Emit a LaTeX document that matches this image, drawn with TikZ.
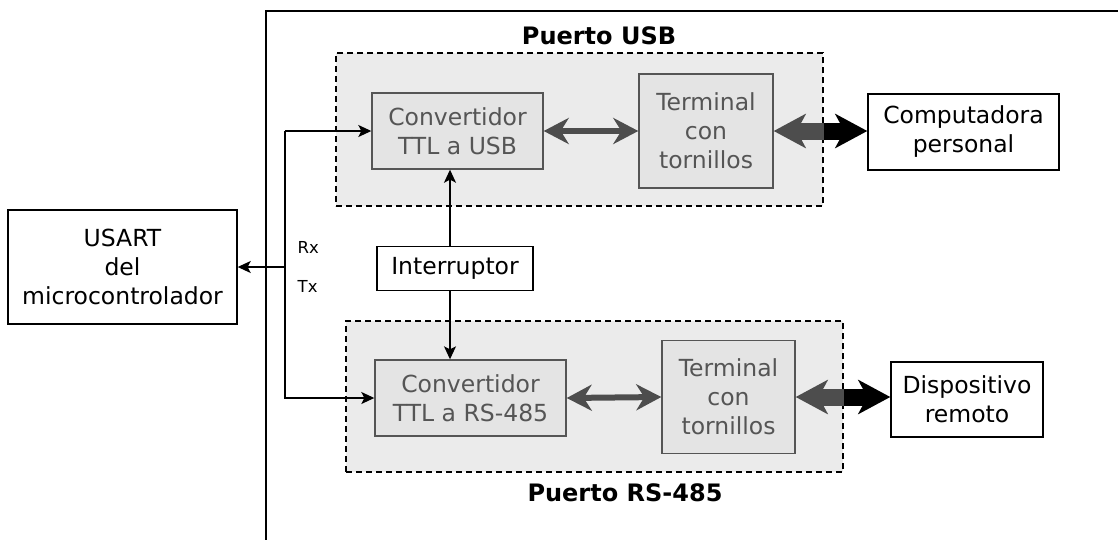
\documentclass[tikz,border=0pt]{standalone}
\usepackage{fontspec}
\setmainfont{DejaVu Sans}
\usetikzlibrary{arrows.meta}
\definecolor{inkgray}{HTML}{555555}
\definecolor{boxfill}{HTML}{E4E4E4}
\definecolor{portfill}{HTML}{EBEBEB}
\definecolor{arrgray}{HTML}{4D4D4D}

\begin{document}
\begin{tikzpicture}[x=1pt, y=-1pt, line width=1.4pt,
  txt/.style={font=\fontsize{23.5}{29}\selectfont},
  plain/.style={txt, draw=black, fill=white, align=center, inner sep=0pt},
  inner/.style={txt, draw=inkgray, fill=boxfill, text=inkgray, align=center, inner sep=0pt},
  port/.style={draw=black, dash pattern=on 6pt off 4pt, fill=portfill, inner sep=0pt},
  title/.style={font=\fontsize{24}{29}\bfseries\selectfont},
  small/.style={font=\fontsize{16.5}{19}\selectfont, anchor=west, inner sep=0pt},
  sig/.style={-{Stealth[length=13pt,width=12pt,inset=3pt]}, line width=1.4pt},
  link/.style={arrgray, line width=6pt,
    {Stealth[length=25pt,width=26pt,inset=8pt]}-{Stealth[length=25pt,width=26pt,inset=8pt]}},
  fat/.style={line width=17pt}
]
\useasboundingbox (0,0) rectangle (1118,539);

% enclosing frame of the board
\draw (1125,11) -- (266,11) -- (266,545);

% port groups
\node[port, minimum width=487pt, minimum height=153pt] (usbport) at (579.5,129.5) {};
\node[port, minimum width=497pt, minimum height=151pt] (rsport) at (594.5,396.5) {};
\node[title] (usbtitle) at (599,36) {Puerto USB};
\node[title] (rstitle) at (625,493) {Puerto RS-485};

% blocks
\node[plain, minimum width=229pt, minimum height=114pt] (usart) at (122.5,267) {USART\\del\\microcontrolador};
\node[inner, minimum width=171pt, minimum height=76pt] (conv1) at (457.5,131) {Convertidor\\TTL a USB};
\node[inner, minimum width=134pt, minimum height=114pt] (term1) at (706,131) {Terminal\\con\\tornillos};
\node[plain, minimum width=191pt, minimum height=76pt] (pc) at (963.5,132) {Computadora\\personal};
\node[inner, minimum width=191pt, minimum height=76pt] (conv2) at (470.5,398) {Convertidor\\TTL a RS-485};
\node[inner, minimum width=133pt, minimum height=113pt] (term2) at (728.5,397) {Terminal\\con\\tornillos};
\node[plain, minimum width=152pt, minimum height=75pt] (disp) at (967,399.5) {Dispositivo\\remoto};
\node[plain, minimum width=156pt, minimum height=44pt] (inter) at (455,268.5) {Interruptor};

% serial lines
\node[small] (rx) at (297,247) {Rx};
\node[small] (tx) at (297,286) {Tx};
\coordinate (bus) at (285,0);
\coordinate (sw) at (450,0);
\draw[sig] (conv1.west -| bus) -- (conv1.west);
\draw[sig] (conv1.west -| bus) |- (conv2.west);
\draw[sig] (usart.east -| bus) -- (usart.east);

% switch lines
\draw[sig] (inter.north -| sw) -- (conv1.south -| sw);
\draw[sig] (inter.south -| sw) -- (conv2.north -| sw);

% internal links
\draw[link] (conv1.east) -- (term1.west);
\draw[link] (conv2.east) -- (term2.west);

% external links
\coordinate (e1) at (usbport.east |- term1.east);
\coordinate (e2) at (rsport.east |- term2.east);
\draw[fat, arrgray, {Stealth[length=32pt,width=34pt,inset=9pt]}-] (term1.east) -- (e1);
\draw[fat, black, -{Stealth[length=32pt,width=34pt,inset=9pt]}] (e1) -- (e1 -| pc.west);
\draw[fat, arrgray, {Stealth[length=32pt,width=34pt,inset=9pt]}-] (term2.east) -- (e2);
\draw[fat, black, -{Stealth[length=32pt,width=34pt,inset=9pt]}] (e2) -- (e2 -| disp.west);
\end{tikzpicture}
\end{document}
